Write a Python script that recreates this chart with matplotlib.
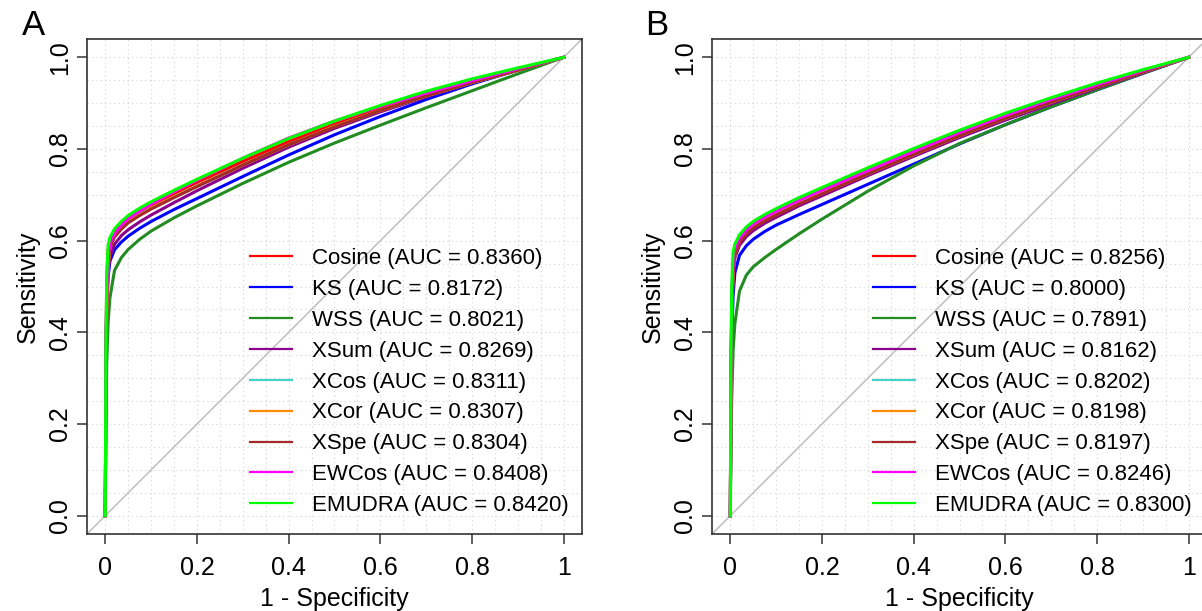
import matplotlib
matplotlib.use("Agg")
import matplotlib.pyplot as plt
import numpy as np

plt.rcParams['font.family'] = ['Liberation Sans', 'DejaVu Sans']

# ---------------- data ----------------
methods = ["Cosine", "KS", "WSS", "XSum", "XCos", "XCor", "XSpe", "EWCos", "EMUDRA"]
colors = ["#FF0000", "#0000FF", "#228B22", "#8B008B", "#48D1CC",
          "#FF8C00", "#A52A2A", "#FF00FF", "#00FF00"]
auc_a = [0.8360, 0.8172, 0.8021, 0.8269, 0.8311, 0.8307, 0.8304, 0.8408, 0.8420]
auc_b = [0.8256, 0.8000, 0.7891, 0.8162, 0.8202, 0.8198, 0.8197, 0.8246, 0.8300]

# false positive rate (1 - specificity) at which sensitivities were read
fpr = [0, 0.001, 0.003, 0.006, 0.01, 0.02, 0.035, 0.05, 0.075, 0.1,
       0.15, 0.2, 0.3, 0.4, 0.5, 0.6, 0.7, 0.8, 0.9, 1.0]

# panel A sensitivities
a_cosine = [0, 0.34, 0.51, 0.58, 0.600, 0.619, 0.635, 0.648, 0.664, 0.678, 0.703, 0.727, 0.773, 0.816, 0.854, 0.888, 0.919, 0.947, 0.973, 1.0]
a_ks     = [0, 0.28, 0.44, 0.52, 0.555, 0.580, 0.597, 0.610, 0.627, 0.642, 0.668, 0.692, 0.740, 0.787, 0.831, 0.871, 0.908, 0.942, 0.972, 1.0]
a_wss    = [0, 0.20, 0.33, 0.42, 0.475, 0.535, 0.563, 0.581, 0.603, 0.621, 0.650, 0.676, 0.725, 0.771, 0.813, 0.852, 0.890, 0.927, 0.964, 1.0]
a_xsum   = [0, 0.30, 0.46, 0.53, 0.565, 0.592, 0.611, 0.624, 0.641, 0.656, 0.683, 0.709, 0.758, 0.804, 0.845, 0.881, 0.914, 0.944, 0.972, 1.0]
a_xcos   = [0, 0.31, 0.48, 0.565, 0.590, 0.611, 0.627, 0.640, 0.656, 0.670, 0.695, 0.719, 0.765, 0.809, 0.849, 0.884, 0.916, 0.945, 0.972, 1.0]
a_xcor   = [0, 0.28, 0.45, 0.54, 0.585, 0.610, 0.627, 0.640, 0.656, 0.670, 0.695, 0.719, 0.765, 0.809, 0.849, 0.884, 0.916, 0.945, 0.972, 1.0]
a_xspe   = [0, 0.30, 0.47, 0.555, 0.585, 0.608, 0.625, 0.639, 0.655, 0.669, 0.694, 0.718, 0.765, 0.809, 0.848, 0.884, 0.916, 0.945, 0.972, 1.0]
a_ewcos  = [0, 0.32, 0.49, 0.565, 0.593, 0.616, 0.634, 0.648, 0.665, 0.680, 0.707, 0.732, 0.780, 0.824, 0.861, 0.893, 0.922, 0.949, 0.975, 1.0]
a_emudra = [0, 0.35, 0.52, 0.59, 0.607, 0.626, 0.642, 0.655, 0.671, 0.685, 0.710, 0.734, 0.780, 0.823, 0.861, 0.895, 0.926, 0.953, 0.977, 1.0]

# panel B sensitivities
b_cosine = [0, 0.25, 0.45, 0.545, 0.580, 0.605, 0.624, 0.637, 0.652, 0.665, 0.689, 0.711, 0.754, 0.796, 0.837, 0.874, 0.909, 0.941, 0.971, 1.0]
b_ks     = [0, 0.20, 0.38, 0.48, 0.530, 0.568, 0.589, 0.603, 0.620, 0.634, 0.657, 0.679, 0.723, 0.767, 0.811, 0.853, 0.892, 0.929, 0.965, 1.0]
b_wss    = [0, 0.10, 0.25, 0.36, 0.420, 0.490, 0.525, 0.543, 0.563, 0.581, 0.615, 0.647, 0.708, 0.763, 0.812, 0.853, 0.892, 0.929, 0.965, 1.0]
b_xsum   = [0, 0.22, 0.42, 0.52, 0.563, 0.590, 0.609, 0.622, 0.638, 0.651, 0.676, 0.698, 0.742, 0.784, 0.825, 0.863, 0.898, 0.933, 0.966, 1.0]
b_xcos   = [0, 0.24, 0.44, 0.535, 0.572, 0.598, 0.616, 0.629, 0.644, 0.657, 0.681, 0.703, 0.746, 0.788, 0.829, 0.867, 0.902, 0.936, 0.968, 1.0]
b_xcor   = [0, 0.23, 0.43, 0.53, 0.570, 0.597, 0.616, 0.629, 0.644, 0.657, 0.681, 0.703, 0.746, 0.788, 0.829, 0.867, 0.902, 0.936, 0.968, 1.0]
b_xspe   = [0, 0.24, 0.44, 0.53, 0.570, 0.596, 0.615, 0.628, 0.643, 0.656, 0.680, 0.702, 0.746, 0.788, 0.829, 0.867, 0.902, 0.936, 0.968, 1.0]
b_ewcos  = [0, 0.27, 0.47, 0.555, 0.582, 0.605, 0.623, 0.636, 0.651, 0.664, 0.688, 0.710, 0.753, 0.795, 0.836, 0.873, 0.908, 0.940, 0.971, 1.0]
b_emudra = [0, 0.30, 0.50, 0.575, 0.593, 0.613, 0.630, 0.642, 0.657, 0.670, 0.694, 0.716, 0.759, 0.801, 0.841, 0.878, 0.912, 0.944, 0.973, 1.0]

panel_a = [a_cosine, a_ks, a_wss, a_xsum, a_xcos, a_xcor, a_xspe, a_ewcos, a_emudra]
panel_b = [b_cosine, b_ks, b_wss, b_xsum, b_xcos, b_xcor, b_xspe, b_ewcos, b_emudra]

xticks = [0, 0.2, 0.4, 0.6, 0.8, 1.0]
xticklabels = ["0", "0.2", "0.4", "0.6", "0.8", "1"]
yticks = [0, 0.2, 0.4, 0.6, 0.8, 1.0]
yticklabels = ["0.0", "0.2", "0.4", "0.6", "0.8", "1.0"]

# ---------------- figure ----------------
W, H = 1202, 611
fig = plt.figure(figsize=(W / 100, H / 100), dpi=100)


def px_axes(left, top, right, bottom):
    return fig.add_axes([left / W, 1 - bottom / H, (right - left) / W, (bottom - top) / H])


def draw_panel(ax, curves, aucs, letter, letter_x, legend_x):
    ax.set_xlim(-0.04, 1.04)
    ax.set_ylim(-0.04, 1.04)
    for v in np.arange(0, 1.0001, 0.05):
        ax.axvline(v, color="#D3D3D3", lw=0.8, ls=(0, (1, 3)), zorder=0)
        ax.axhline(v, color="#D3D3D3", lw=0.8, ls=(0, (1, 3)), zorder=0)
    ax.axline((0, 0), (1, 1), color="#BEBEBE", lw=1.1, zorder=1)
    handles = []
    for name, col, tpr, auc in zip(methods, colors, curves, aucs):
        ax.plot(fpr, tpr, color=col, lw=2.2, solid_joinstyle="round", zorder=2)
        h, = ax.plot([], [], color=col, lw=1.6,
                     label=f"{name} (AUC = {auc:.4f})")
        handles.append(h)
    ax.legend(handles=handles, loc="upper left", frameon=False,
              bbox_to_anchor=(legend_x / W, 1 - 248 / H),
              bbox_transform=fig.transFigure, fontsize=16,
              handlelength=1.9, handletextpad=0.9, labelspacing=0.445,
              borderpad=0, borderaxespad=0)
    ax.set_xticks(xticks)
    ax.set_xticklabels(xticklabels)
    ax.set_yticks(yticks)
    ax.set_yticklabels(yticklabels)
    ax.tick_params(axis="both", direction="out", length=7, width=1.1,
                   labelsize=18, color="#333333")
    ax.tick_params(axis="x", pad=9)
    ax.tick_params(axis="y", pad=4, labelrotation=90)
    for lab in ax.get_yticklabels():
        lab.set_va("center")
    for s in ax.spines.values():
        s.set_linewidth(1.2)
        s.set_color("#333333")
    ax.set_xlabel("1 - Specificity", fontsize=18, labelpad=5)
    ax.set_ylabel("Sensitivity", fontsize=18, labelpad=6)
    fig.text(letter_x / W, 1 - 35 / H, letter, fontsize=25, va="baseline", ha="left")


ax_a = px_axes(87, 39, 582, 534)
ax_b = px_axes(712, 39, 1207, 534)
draw_panel(ax_a, panel_a, auc_a, "A", 22, 250)
draw_panel(ax_b, panel_b, auc_b, "B", 645, 873)

fig.savefig("out.png", dpi=100)
